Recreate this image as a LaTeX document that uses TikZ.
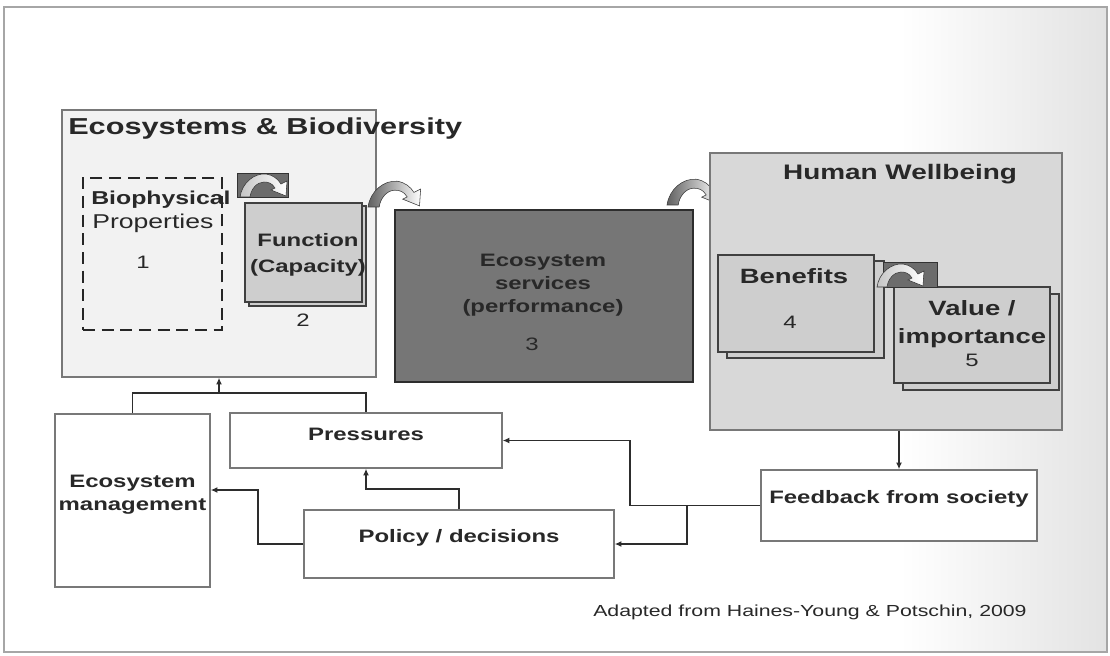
\documentclass[tikz,border=0pt]{standalone}
\usepackage{fontspec}
\setmainfont{Liberation Sans}[FakeStretch=1.33]
\usetikzlibrary{arrows.meta,fit,calc}

\definecolor{txt}{RGB}{40,40,40}
\definecolor{edge}{RGB}{120,120,120}
\definecolor{panel}{RGB}{242,242,242}
\definecolor{hwfill}{RGB}{216,216,216}
\definecolor{cardfill}{RGB}{206,206,206}
\definecolor{esfill}{RGB}{118,118,118}
\definecolor{tab}{RGB}{108,108,108}
\definecolor{wirecol}{RGB}{45,45,45}

\newcommand{\bodyfont}{\fontsize{13.5}{17.2}\selectfont}
\newcommand{\bigfont}{\fontsize{15.5}{21}\selectfont}

\tikzset{
  box/.style={draw=edge, line width=1.1pt, fill=white, inner sep=0pt, text=txt, font=\bodyfont\bfseries, align=center},
  card/.style={draw=gray!50!black, line width=1pt, fill=cardfill, inner sep=0pt},
  lbl/.style={text=txt, inner sep=0pt, font=\bodyfont\bfseries, align=center},
  num/.style={text=txt, inner sep=0pt, font=\bodyfont},
  conn/.style={draw=wirecol, line width=1.4pt, -{Latex[length=5pt,width=4.5pt]}},
  wire/.style={draw=wirecol, line width=1.4pt},
  tabbox/.style={fill=tab, draw=gray!40!black, line width=0.5pt},
  archdark/.style={left color=gray!75!black, right color=white, draw=gray!45!black, line width=0.4pt},
  archpale/.style={left color=gray!45, right color=white, draw=gray!40!black, line width=0.4pt},
  pics/arch/.style={code={
    \path[#1] (0,0) .. controls (2,14) and (14,24) .. (26,23) .. controls (33,22) and (38,18) .. (41,13)
      -- (47,16) -- (46,1) -- (31,7) -- (35,9) .. controls (32,14) and (28,15) .. (24,15)
      .. controls (17,15) and (11,8) .. (10,0) -- cycle;
  }}
}

\begin{document}
\begin{tikzpicture}[x=0.75pt,y=0.75pt,yscale=-1,xscale=1]
\useasboundingbox (0,0) rectangle (1110,656);

%Background
\fill[white] (0,0) rectangle (1110,656);
\shade[left color=white, right color=gray!22] (900,7) rectangle (1107,652);
\draw[gray!70, line width=0.8pt] (4,7) rectangle (1107,652);

%Ecosystems & Biodiversity
\node[box, fill=panel, fit={(62,110) (376,377)}] (eb) {};
\node[lbl, anchor=west, font=\fontsize{17.3}{20}\selectfont\bfseries] (ebt) at (68,129) {Ecosystems \& Biodiversity};

%Biophysical properties
\node[lbl, anchor=west, font=\fontsize{14}{17}\selectfont\bfseries] (biot) at (91,200) {Biophysical};
\node[num, anchor=west, font=\fontsize{15}{18}\selectfont] (prop) at (92,223) {Properties};
\node[num] (n1) at (143,262) {1};
\node[draw=black!85, line width=1.6pt, dash pattern=on 9pt off 5pt, inner sep=0pt, fit={(83,178) (222,330)}] (bio) {};

%Function (Capacity)
\node[card, fit={(249,206) (366,306)}] (fn2) {};
\node[card, fit={(245,203) (362,302)}] (fn) {};
\node[lbl, font=\fontsize{13.5}{19.5}\selectfont\bfseries] (fnt) at (308,255) {Function\\(Capacity)};
\node[num] (n2) at (303,320) {2};
\filldraw[tabbox] (237,173) rectangle (288,197);
\pic at (240,197) {arch=archpale};

%Ecosystem services
\node[box, fill=esfill, draw=gray!35!black, fit={(395,210) (693,382)}] (es) {};
\node[lbl] (est) at (543,285) {Ecosystem\\services\\(performance)};
\node[num] (n3) at (532,344) {3};
\pic[scale=1.12] at (368,207) {arch=archdark};
\pic[scale=1.12] at (667,205) {arch=archdark};

%Human Wellbeing
\node[box, fill=hwfill, fit={(710,153) (1062,430)}] (hw) {};
\node[lbl, font=\fontsize{15.75}{19}\selectfont\bfseries] (hwt) at (900,174) {Human Wellbeing};
\node[card, fit={(727,261) (884,358)}] (ben2) {};
\node[card, fit={(718,255) (874,352)}] (ben) {};
\node[lbl, font=\bigfont\bfseries] (bent) at (794,276) {Benefits};
\node[num] (n4) at (790,322) {4};
\node[card, fit={(903,294) (1059,390)}] (val2) {};
\node[card, fit={(894,287) (1050,383)}] (val) {};
\node[lbl, font=\bigfont\bfseries] (valt) at (972,324) {Value /\\importance};
\node[num] (n5) at (972,360) {5};
\filldraw[tabbox] (883,262) rectangle (937,287);
\pic at (877,287) {arch=archpale};

%Lower boxes
\node[box, fit={(55,414) (210,587)}] (em) {Ecosystem\\management};
\node[box, fit={(230,413) (502,468)}] (press) {Pressures};
\node[box, fit={(304,510) (614,578)}] (pol) {Policy / decisions};
\node[box, fit={(761,470) (1037,541)}] (fb) {Feedback from society};

%Connectors
\coordinate (top) at (219,393);
\coordinate (k) at (258,490);
\draw[wire] (em.north) |- (top) -| (press.north);
\draw[conn] (top) -- (eb.south);
\draw[conn] (fb.north |- hw.south) -- (fb.north);
\draw[conn] (fb.west) -- ++(-130,0) |- (press.east);
\draw[conn] (fb.west) ++(-73,0) |- (pol.east);
\draw[conn] (pol.north) -- ++(0,-20) -| (press.south);
\draw[conn] (pol.west) -| (k) -- (k -| em.east);

% Source
\node[num, anchor=west, font=\fontsize{12}{14}\selectfont] (src) at (593,612) {Adapted from Haines-Young \& Potschin, 2009};

\end{tikzpicture}
\end{document}
